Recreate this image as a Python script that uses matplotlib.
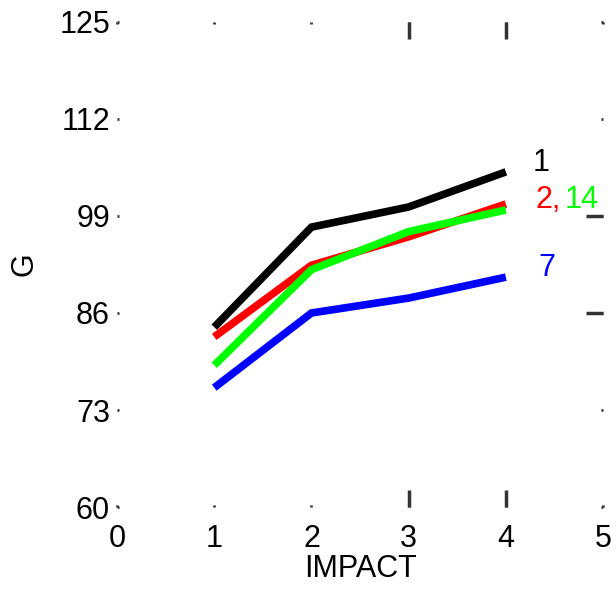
import matplotlib
matplotlib.use("Agg")
import matplotlib.pyplot as plt

plt.rcParams['font.family'] = ['Liberation Sans', 'DejaVu Sans']

impact = [1, 2, 3, 4]
g_1 = [84.1, 97.5, 100.2, 104.9]
g_2 = [82.8, 92.4, 96.2, 100.6]
g_14 = [79.0, 91.8, 96.9, 99.8]
g_7 = [76.0, 86.0, 88.0, 90.8]

x_ticks = [0, 1, 2, 3, 4, 5]
y_ticks = [60, 73, 86, 99, 112, 125]

series = [(g_1, 'black'), (g_2, 'red'), (g_14, 'lime'), (g_7, 'blue')]

fig = plt.figure(figsize=(6.16, 5.89), dpi=100)
ax = fig.add_axes([0.19, 0.139, 0.789, 0.824])

for vals, col in series:
    ax.plot(impact, vals, color=col, lw=5.5, solid_capstyle='butt', solid_joinstyle='miter')

# end labels
ax.text(4.28, 106.1, '1', color='black', fontsize=22, va='center', ha='left')
t = ax.text(4.3, 101.2, '2,', color='red', fontsize=22, va='center', ha='left')
ax.annotate('14', xycoords=t, xy=(1, 0.5), va='center', ha='left',
            color='lime', fontsize=22, xytext=(3, 0), textcoords='offset points')
ax.text(4.33, 92.0, '7', color='blue', fontsize=22, va='center', ha='left')

ax.set_xlim(0, 5)
ax.set_ylim(60, 125)
ax.set_xticks(x_ticks)
ax.set_yticks(y_ticks)
ax.xaxis.remove_overlapping_locs = False
ax.yaxis.remove_overlapping_locs = False
ax.set_xticks([3, 4], minor=True)
ax.set_yticks([86, 99], minor=True)
for s in ax.spines.values():
    s.set_visible(False)
ax.tick_params(which='major', direction='in', length=1.5, width=2, color='#333333',
               top=True, right=True, labelsize=22, pad=5)
ax.tick_params(axis='x', which='major', pad=12)
ax.tick_params(axis='x', which='minor', direction='in', length=12, width=2.5,
               color='#333333', top=True, bottom=True)
ax.tick_params(axis='y', which='minor', direction='in', length=12, width=2.5,
               color='#333333', left=False, right=True)

ax.set_xlabel('IMPACT', fontsize=22, labelpad=0)
ax.set_ylabel('G', fontsize=22, labelpad=14)

fig.savefig('out.png', dpi=100)
